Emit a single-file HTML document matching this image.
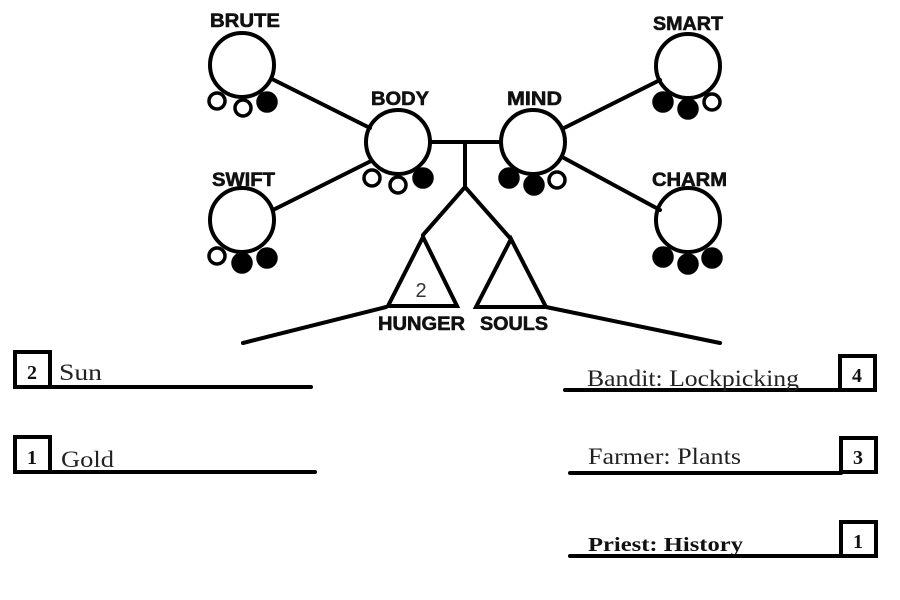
<!DOCTYPE html>
<html><head><meta charset="utf-8"><style>
html,body{margin:0;padding:0;background:#fff;width:900px;height:600px;overflow:hidden}
svg{display:block}
.h{font-family:"Liberation Sans",sans-serif;font-weight:bold;font-size:19px;fill:#111;stroke:#111;stroke-width:0.6}
.s{font-family:"Liberation Serif",serif;font-size:23px;fill:#222}
.b{font-family:"Liberation Serif",serif;font-size:20px;font-weight:bold;fill:#111}
</style></head><body>
<svg width="900" height="600" viewBox="0 0 900 600" xmlns="http://www.w3.org/2000/svg">
<g stroke="#000" stroke-width="4" fill="none" stroke-linecap="round">
<line x1="272" y1="79" x2="370" y2="128"/>
<line x1="273" y1="210" x2="371" y2="161"/>
<line x1="564" y1="128" x2="660" y2="80"/>
<line x1="564" y1="158" x2="660" y2="210"/>
<line x1="430" y1="142" x2="501" y2="142"/>
<line x1="465" y1="142" x2="465" y2="187"/>
<polyline points="423,235 465,187 510,238"/>
<polygon points="423,237 388,306 457,306" stroke-linejoin="miter"/>
<polygon points="511,239 476,307 546,307" stroke-linejoin="miter"/>
<line x1="386" y1="307" x2="243" y2="343"/>
<line x1="546" y1="307" x2="720" y2="343"/>
<circle cx="242" cy="65" r="32"/>
<circle cx="242" cy="220" r="32"/>
<circle cx="398" cy="142" r="32"/>
<circle cx="533" cy="142" r="32"/>
<circle cx="688" cy="66" r="32"/>
<circle cx="688" cy="220" r="32"/>
</g>
<g stroke="#000" stroke-width="3.5">
<circle cx="217" cy="101" r="8" fill="#fff"/><circle cx="243" cy="108" r="8" fill="#fff"/><circle cx="267" cy="102" r="9" fill="#000"/>
<circle cx="217" cy="256" r="8" fill="#fff"/><circle cx="242" cy="263" r="9" fill="#000"/><circle cx="267" cy="258" r="9" fill="#000"/>
<circle cx="372" cy="178" r="8" fill="#fff"/><circle cx="398" cy="185" r="8" fill="#fff"/><circle cx="423" cy="178" r="9" fill="#000"/>
<circle cx="509" cy="178" r="9" fill="#000"/><circle cx="534" cy="185" r="9" fill="#000"/><circle cx="557" cy="180" r="8" fill="#fff"/>
<circle cx="663" cy="102" r="9" fill="#000"/><circle cx="688" cy="109" r="9" fill="#000"/><circle cx="712" cy="102" r="8" fill="#fff"/>
<circle cx="663" cy="257" r="9" fill="#000"/><circle cx="688" cy="264" r="9" fill="#000"/><circle cx="712" cy="258" r="9" fill="#000"/>
</g>
<text class="h" x="210" y="27" textLength="70" lengthAdjust="spacingAndGlyphs">BRUTE</text>
<text class="h" x="212" y="186" textLength="63" lengthAdjust="spacingAndGlyphs">SWIFT</text>
<text class="h" x="371" y="105" textLength="58" lengthAdjust="spacingAndGlyphs">BODY</text>
<text class="h" x="507" y="105" textLength="55" lengthAdjust="spacingAndGlyphs">MIND</text>
<text class="h" x="653" y="30" textLength="70" lengthAdjust="spacingAndGlyphs">SMART</text>
<text class="h" x="652" y="186" textLength="75" lengthAdjust="spacingAndGlyphs">CHARM</text>
<text class="h" x="378" y="330" textLength="87" lengthAdjust="spacingAndGlyphs">HUNGER</text>
<text class="h" x="480" y="330" textLength="68" lengthAdjust="spacingAndGlyphs">SOULS</text>
<text x="421" y="297" text-anchor="middle" font-family="'Liberation Sans',sans-serif" font-size="20" fill="#333">2</text>
<g stroke="#000" stroke-width="4" fill="none">
<rect x="15" y="352" width="35" height="35"/>
<rect x="15" y="437" width="35" height="35"/>
<rect x="840" y="356" width="35" height="34"/>
<rect x="841" y="438" width="35" height="34"/>
<rect x="841" y="522" width="35" height="34"/>
</g>
<g stroke="#000" stroke-width="4" stroke-linecap="round">
<line x1="50" y1="387" x2="311" y2="387"/>
<line x1="50" y1="472" x2="315" y2="472"/>
<line x1="565" y1="390" x2="840" y2="390"/>
<line x1="570" y1="473" x2="841" y2="473"/>
<line x1="570" y1="556" x2="841" y2="556"/>
</g>
<text class="b" x="32" y="379" text-anchor="middle">2</text>
<text class="b" x="32" y="464" text-anchor="middle">1</text>
<text class="b" x="857" y="382" text-anchor="middle">4</text>
<text class="b" x="858" y="464" text-anchor="middle">3</text>
<text class="b" x="858" y="548" text-anchor="middle">1</text>
<text class="s" x="59" y="380" textLength="43" lengthAdjust="spacingAndGlyphs">Sun</text>
<text class="s" x="61" y="467" textLength="53" lengthAdjust="spacingAndGlyphs">Gold</text>
<text class="s" x="587" y="386" textLength="212" lengthAdjust="spacingAndGlyphs">Bandit: Lockpicking</text>
<text class="s" x="588" y="464" textLength="153" lengthAdjust="spacingAndGlyphs">Farmer: Plants</text>
<text class="b" x="588" y="551" font-size="22" textLength="155" lengthAdjust="spacingAndGlyphs">Priest: History</text>
</svg>
</body></html>
